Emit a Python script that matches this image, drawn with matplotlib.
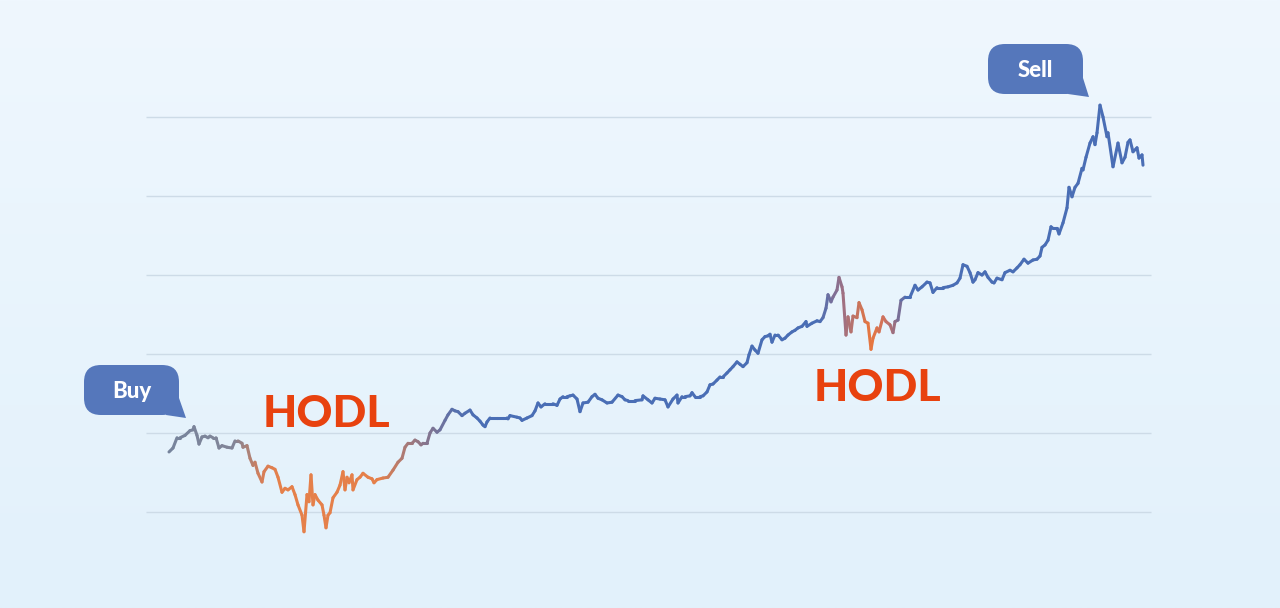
import numpy as np
import matplotlib
matplotlib.use("Agg")
import matplotlib.pyplot as plt
from matplotlib.collections import LineCollection
from matplotlib.patches import FancyBboxPatch, Polygon
import matplotlib.transforms as mtransforms

# ---------------- data (day index, price in thousands) ----------------
days = [0, 4, 8, 11, 16, 21, 24, 25, 28, 30, 33, 36, 39, 41, 44, 47, 50, 53, 58, 63,
        66, 69, 73, 74, 78, 81, 84, 86, 89, 93, 95, 99, 103, 106, 109, 113, 116, 119, 123, 126,
        129, 133, 135, 138, 140, 142, 144, 146, 149, 153, 155, 157, 159, 161, 164, 168, 171, 174, 176, 178,
        180, 183, 184, 188, 191, 194, 199, 203, 205, 208, 214, 219, 224, 229, 233, 236, 239, 243, 246, 249,
        252, 254, 258, 261, 264, 268, 271, 276, 279, 283, 286, 289, 293, 296, 301, 304, 308, 311, 314, 316,
        318, 321, 328, 334, 338, 339, 341, 348, 351, 353, 358, 363, 366, 369, 372, 376, 384, 388, 391, 394,
        398, 401, 404, 408, 411, 414, 419, 423, 426, 429, 433, 438, 443, 449, 453, 456, 459, 466, 473, 474,
        479, 483, 486, 491, 496, 499, 504, 508, 509, 513, 516, 521, 523, 526, 531, 534, 538, 541, 544, 548,
        551, 554, 558, 561, 564, 568, 571, 574, 578, 580, 583, 586, 589, 593, 596, 599, 601, 603, 606, 609,
        613, 616, 619, 623, 626, 629, 633, 637, 638, 643, 648, 651, 654, 657, 659, 662, 664, 668, 670, 673,
        674, 677, 679, 682, 684, 688, 690, 693, 696, 699, 702, 704, 708, 710, 714, 717, 721, 724, 726, 729,
        732, 736, 741, 746, 749, 753, 758, 761, 764, 768, 774, 779, 784, 788, 791, 794, 798, 801, 804, 806,
        809, 813, 816, 819, 823, 825, 828, 833, 836, 841, 844, 848, 851, 855, 859, 864, 868, 871, 873, 876,
        879, 882, 884, 888, 890, 894, 898, 900, 903, 906, 909, 913, 914, 917, 921, 924, 926, 928, 931, 934,
        938, 939, 944, 949, 953, 956, 959, 961, 964, 968, 970, 973, 974]
price = [17.6, 18.1, 19.4, 19.4, 19.7, 20.3, 20.4, 20.8, 19.7, 18.6, 19.5, 19.6, 19.4, 19.6, 19.4, 19.4, 18.1, 18.4, 18.2, 18.1,
         19.0, 19.0, 18.7, 18.2, 18.4, 16.8, 15.9, 16.3, 14.9, 13.8, 15.1, 15.8, 15.6, 15.4, 14.4, 12.5, 13.0, 12.8, 13.2, 12.2,
         10.9, 9.6, 7.5, 12.2, 11.3, 14.7, 10.9, 12.2, 11.5, 10.9, 9.6, 8.0, 9.6, 9.9, 11.8, 12.5, 13.4, 15.1, 12.8, 14.4,
         13.7, 14.7, 12.8, 14.1, 14.4, 14.9, 14.4, 14.2, 13.7, 14.1, 14.3, 14.4, 15.3, 16.3, 16.8, 18.2, 18.7, 18.7, 19.1, 18.9,
         18.5, 18.7, 18.7, 20.0, 20.6, 20.1, 20.4, 21.6, 22.3, 23.0, 22.8, 22.7, 22.2, 22.5, 22.9, 22.3, 21.9, 21.5, 21.0, 20.8,
         21.4, 21.9, 21.9, 21.9, 21.9, 21.8, 22.2, 22.0, 21.9, 21.6, 21.9, 22.2, 22.8, 23.8, 23.3, 23.7, 23.7, 23.5, 24.3, 24.6,
         24.6, 24.7, 24.8, 24.3, 22.7, 23.8, 23.9, 24.6, 24.9, 24.4, 24.2, 23.8, 23.9, 24.8, 24.6, 24.2, 24.1, 24.1, 24.2, 24.7,
         24.2, 23.8, 24.4, 24.3, 24.2, 23.3, 24.3, 24.8, 23.8, 24.6, 24.6, 24.7, 25.1, 24.6, 24.6, 24.7, 25.2, 26.1, 26.2, 26.7,
         27.1, 27.1, 27.6, 28.0, 28.4, 29.0, 28.7, 28.4, 28.9, 29.9, 31.0, 30.5, 30.1, 31.8, 32.2, 32.3, 32.5, 31.5, 32.4, 32.4,
         31.8, 32.0, 32.4, 32.8, 33.0, 33.3, 33.5, 34.1, 33.5, 33.9, 34.2, 34.1, 34.6, 35.8, 37.5, 36.6, 37.2, 38.1, 39.7, 38.5,
         37.7, 32.4, 34.7, 32.8, 34.8, 34.6, 36.5, 35.6, 34.1, 33.9, 30.6, 32.0, 33.3, 32.8, 34.7, 34.1, 33.7, 32.7, 34.1, 34.3,
         36.8, 37.2, 37.2, 38.7, 38.1, 38.5, 39.1, 39.0, 37.8, 38.4, 38.4, 38.5, 38.7, 39.0, 39.6, 41.3, 41.1, 40.3, 39.1, 39.4,
         40.3, 40.0, 40.4, 39.7, 39.1, 39.0, 39.6, 39.4, 40.3, 40.6, 40.4, 40.9, 41.3, 42.0, 41.5, 41.9, 42.0, 42.4, 43.5, 43.8,
         44.4, 46.1, 45.9, 45.9, 45.2, 46.6, 48.5, 51.1, 49.9, 51.1, 51.6, 53.5, 53.3, 54.9, 56.7, 57.5, 56.5, 58.0, 61.5, 60.0,
         57.5, 58.0, 53.7, 56.7, 54.2, 54.9, 56.8, 57.1, 55.6, 56.1, 54.8, 55.2, 53.9]
grid_levels = [10, 20, 30, 40, 50, 60]
labels_hodl = ["HODL", "HODL"]
bubble_labels = ["Buy", "Sell"]

# ---------------- styles ----------------
W, H = 1280, 608
BLUE = (74, 110, 181)
ORANGE = (229, 128, 74)
GREY = (118, 132, 156)
BUBBLE = "#5577bb"
HODL_COLOR = "#e8420f"
# colour stops along the day axis (style only)
stops = [(0, GREY), (66, (130, 133, 152)), (93, (214, 126, 88)), (111, ORANGE),
         (211, ORANGE), (236, (170, 122, 118)), (286, (88, 112, 172)), (311, BLUE),
         (651, BLUE), (675, (160, 112, 130)), (702, (232, 118, 62)), (718, (200, 112, 100)),
         (738, BLUE), (974, BLUE)]

fig = plt.figure(figsize=(W / 100, H / 100), dpi=100)

# background gradient
bg = fig.add_axes([0, 0, 1, 1], zorder=0)
top = np.array([239, 247, 254]) / 255
bot = np.array([226, 241, 251]) / 255
t = np.linspace(0, 1, 256)[:, None]
grad = top[None, None, :] * (1 - t[..., None]) + bot[None, None, :] * t[..., None]
grad = np.repeat(grad, 2, axis=1)
bg.imshow(grad, aspect="auto", extent=[0, 1, 0, 1])
bg.set_axis_off()

ax = fig.add_axes([0, 0, 1, 1], zorder=1)
ax.patch.set_alpha(0)
ax.set_axis_off()
# axis limits: 1 day = 1px, 1k = 7.9px ; start day at px 169, level 10 at px 512 (from top)
ppu = 7.9
ax.set_xlim(-169, W - 169)
ax.set_ylim(10 - (H - 512) / ppu, 10 + 512 / ppu)

ax.hlines(grid_levels, -23, 982, colors="#cddbe7", linewidth=1.0, zorder=1)

x = np.array(days, dtype=float)
y = np.array(price, dtype=float)
sd = np.array([s[0] for s in stops], float)
sc = np.array([s[1] for s in stops], float) / 255
xm = (x[:-1] + x[1:]) / 2
cols = np.stack([np.interp(xm, sd, sc[:, k]) for k in range(3)], axis=1)
segs = np.stack([np.column_stack([x[:-1], y[:-1]]), np.column_stack([x[1:], y[1:]])], axis=1)
lc = LineCollection(segs, colors=cols, linewidths=2.2, capstyle="round", joinstyle="round", zorder=3)
ax.add_collection(lc)

# pixel transform (origin top-left)
pix = mtransforms.Affine2D().scale(1 / W, -1 / H).translate(0, 1) + fig.transFigure


def bubble(x0, y0, x1, y1, tail, label, baseline):
    box = FancyBboxPatch((x0, y0), x1 - x0, y1 - y0,
                         boxstyle="round,pad=0,rounding_size=17",
                         transform=pix, facecolor=BUBBLE, edgecolor="none", zorder=4)
    fig.add_artist(box)
    fig.add_artist(Polygon(tail, closed=True, transform=pix, facecolor=BUBBLE,
                           edgecolor="none", zorder=4))
    fig.text((x0 + x1) / 2 / W, 1 - baseline / H, label, ha="center", va="baseline",
             color="white", fontsize=16, fontweight="black", family="Lato", zorder=5)


bubble(84, 365, 179, 415, [(168, 398), (179, 398), (186, 418), (166, 415)], bubble_labels[0], 398)
bubble(988, 44, 1083, 94, [(1072, 78), (1083, 78), (1089, 97), (1068, 94)], bubble_labels[1], 77)

fig.text(326 / W, 1 - 427 / H, labels_hodl[0], ha="center", va="baseline",
         color=HODL_COLOR, fontsize=32, fontweight="black", family="Lato", zorder=5)
fig.text(877 / W, 1 - 401 / H, labels_hodl[1], ha="center", va="baseline",
         color=HODL_COLOR, fontsize=32, fontweight="black", family="Lato", zorder=5)

fig.savefig("out.png", dpi=100)
